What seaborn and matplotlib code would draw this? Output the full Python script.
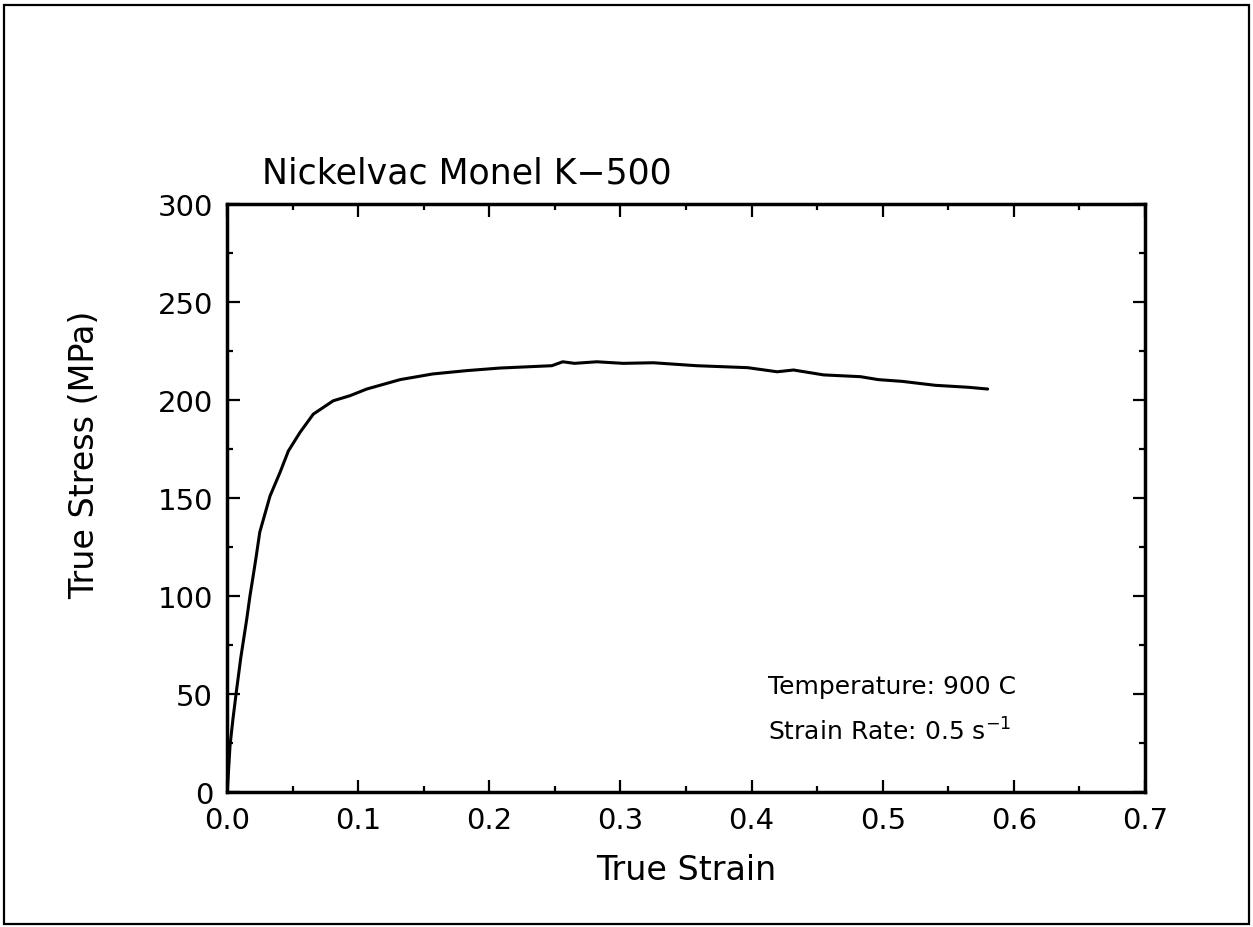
import pandas as pd
import seaborn as sns
import matplotlib.pyplot as plt
from matplotlib.patches import Rectangle
from matplotlib.ticker import MultipleLocator

# valores (deformacion verdadera vs esfuerzo verdadero)
strain = [0.0, 0.0003, 0.0023, 0.0045, 0.0069, 0.0104, 0.015, 0.0175, 0.0199, 0.022,
          0.025, 0.0328, 0.0404, 0.0468, 0.0557, 0.0658, 0.081, 0.0938, 0.1066, 0.132,
          0.157, 0.183, 0.208, 0.2477, 0.256, 0.265, 0.282, 0.302, 0.325, 0.358,
          0.397, 0.4195, 0.432, 0.455, 0.483, 0.4966, 0.515, 0.54, 0.565, 0.58]
stress = [0.0, 1.0, 23.6, 37.0, 50.0, 68.0, 88.0, 100.0, 110.0, 119.0,
          132.6, 151.0, 163.0, 174.0, 183.5, 192.8, 199.6, 202.2, 205.6, 210.4,
          213.3, 215.0, 216.3, 217.5, 219.5, 218.7, 219.5, 218.7, 219.0, 217.5,
          216.5, 214.4, 215.3, 212.8, 211.9, 210.4, 209.5, 207.5, 206.5, 205.6]

xticks = [0.0, 0.1, 0.2, 0.3, 0.4, 0.5, 0.6, 0.7]
yticks = [0, 50, 100, 150, 200, 250, 300]

df = pd.DataFrame({"strain": strain, "stress": stress})

sns.set_theme(style="ticks")
plt.rcParams['font.family'] = ['DejaVu Sans']

fig = plt.figure(figsize=(12.53, 9.28), dpi=100)
ax = fig.add_axes([227 / 1253, 135 / 928, 918 / 1253, 588 / 928])

sns.lineplot(x="strain", y="stress", data=df, estimator=None, sort=False,
             color="black", linewidth=2.2, ax=ax)

ax.set_xlim(0, 0.7)
ax.set_ylim(0, 300)
ax.set_xticks(xticks)
ax.set_xticklabels([f"{v:.1f}" for v in xticks])
ax.set_yticks(yticks)
ax.set_yticklabels([str(v) for v in yticks])
ax.xaxis.set_minor_locator(MultipleLocator(0.05))
ax.yaxis.set_minor_locator(MultipleLocator(25))

ax.tick_params(which="both", direction="in", top=True, right=True,
               width=1.6, colors="black")
ax.tick_params(which="major", length=9, labelsize=21, pad=10)
ax.tick_params(which="minor", length=4.5)
for s in ax.spines.values():
    s.set_linewidth(2.5)
    s.set_color("black")

ax.set_xlabel("True Strain", fontsize=24, color="black")
ax.set_ylabel("True Stress (MPa)", fontsize=24, color="black")
ax.xaxis.set_label_coords(0.5, -0.131)
ax.xaxis.label.set_va("center")
ax.yaxis.set_label_coords(-0.155, 0.575)
ax.yaxis.label.set_va("center")

ax.text(0.038, 1.054, "Nickelvac Monel K\u2212500", transform=ax.transAxes,
        fontsize=25, va="center", ha="left", color="black")
ax.text(0.589, 0.180, "Temperature: 900 C", transform=ax.transAxes,
        fontsize=18, va="center", ha="left", color="black")
ax.text(0.589, 0.103, "Strain Rate: 0.5 s$^{-1}$", transform=ax.transAxes,
        fontsize=18, va="center", ha="left", color="black")

# marco exterior de la figura
fig.patches.append(Rectangle((0.003, 0.003), 0.994, 0.991, transform=fig.transFigure,
                             fill=False, edgecolor="black", linewidth=1.6))

fig.savefig("out.png", dpi=100)
